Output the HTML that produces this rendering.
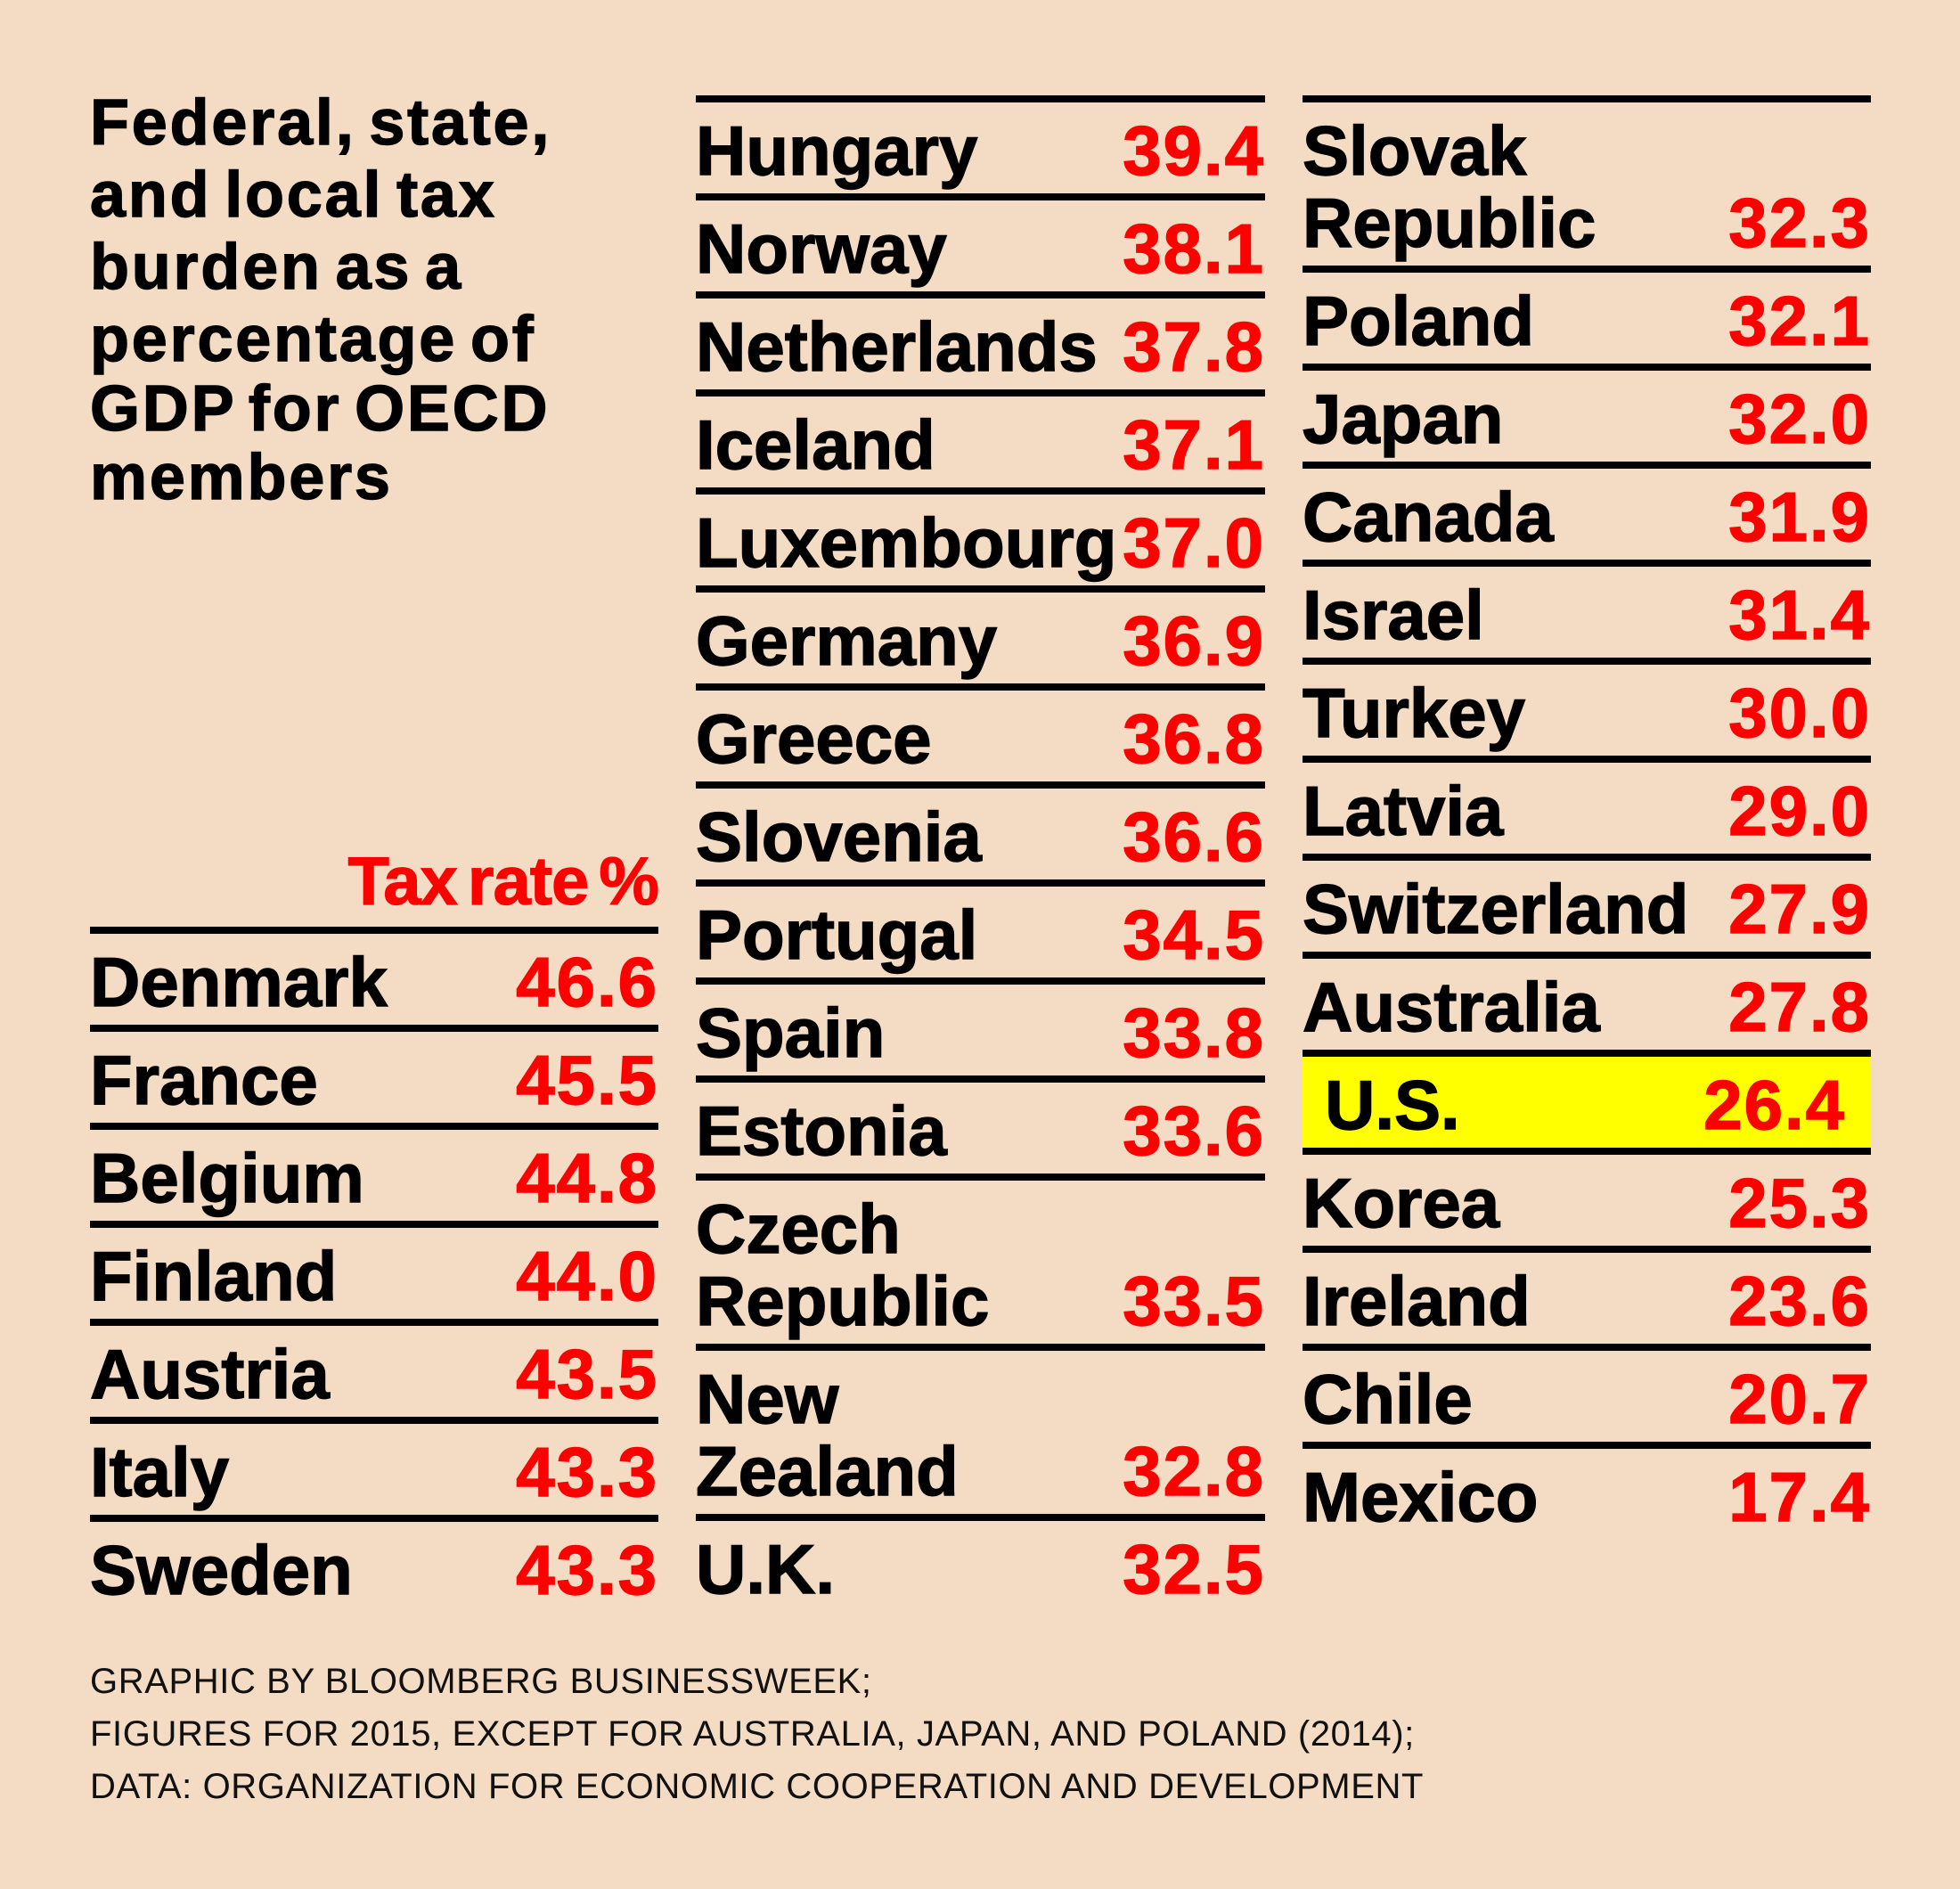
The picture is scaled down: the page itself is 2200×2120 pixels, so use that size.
<!DOCTYPE html>
<html><head><meta charset="utf-8"><style>
html,body{margin:0;padding:0;background:#f3dcc3;}
svg{display:block;}
text{font-family:"Liberation Sans",sans-serif;}
.nm{font-weight:bold;font-size:78px;fill:#000;stroke:#000;stroke-width:1.4px;letter-spacing:0px;}
.vl{font-weight:bold;font-size:78px;fill:#ff0000;stroke:#ff0000;stroke-width:1.4px;letter-spacing:2px;}
.ttl{font-weight:bold;font-size:72px;fill:#000;stroke:#000;stroke-width:1.4px;letter-spacing:2.8px;word-spacing:-8px;}
.ft{font-size:40px;fill:#111;letter-spacing:0.6px;}
</style></head><body>
<svg id="chart" width="2200" height="2120" viewBox="0 0 2200 2120" xmlns="http://www.w3.org/2000/svg">
<rect width="2200" height="2120" fill="#f3dcc3"/>
<g>
<text class="ttl" x="101" y="162">Federal, state,</text>
<text class="ttl" x="101" y="243">and local tax</text>
<text class="ttl" x="101" y="324">burden as a</text>
<text class="ttl" x="101" y="405">percentage of</text>
<text class="ttl" x="101" y="483">GDP for OECD</text>
<text class="ttl" x="101" y="560">members</text>
</g>
<text x="739" y="1015" text-anchor="end" style="font-weight:bold;font-size:76px;fill:#ff0000;stroke:#ff0000;stroke-width:1.2px;letter-spacing:-1px;word-spacing:-8px;">Tax rate %</text>
<g id="rows"></g>
<g>
<text class="ft" x="101" y="1900">GRAPHIC BY BLOOMBERG BUSINESSWEEK;</text>
<text class="ft" x="101" y="1959">FIGURES FOR 2015, EXCEPT FOR AUSTRALIA, JAPAN, AND POLAND (2014);</text>
<text class="ft" x="101" y="2018">DATA: ORGANIZATION FOR ECONOMIC COOPERATION AND DEVELOPMENT</text>
</g>
</svg>
<script>
const countries = ["Denmark","France","Belgium","Finland","Austria","Italy","Sweden",
"Hungary","Norway","Netherlands","Iceland","Luxembourg","Germany","Greece","Slovenia","Portugal","Spain","Estonia","Czech|Republic","New|Zealand","U.K.",
"Slovak|Republic","Poland","Japan","Canada","Israel","Turkey","Latvia","Switzerland","Australia","U.S.","Korea","Ireland","Chile","Mexico"];
const values = [46.6,45.5,44.8,44.0,43.5,43.3,43.3,
39.4,38.1,37.8,37.1,37.0,36.9,36.8,36.6,34.5,33.8,33.6,33.5,32.8,32.5,
32.3,32.1,32.0,31.9,31.4,30.0,29.0,27.9,27.8,26.4,25.3,23.6,20.7,17.4];
const columnCounts = [7,14,14];
const highlighted = ["U.S."];

const cols=[{x0:101,x1:739,y:1040},{x0:781,x1:1420,y:107},{x0:1462,x1:2100,y:107}];
const NS="http://www.w3.org/2000/svg";
const g=document.getElementById('rows');
let idx=0;
columnCounts.forEach((cnt,ci)=>{
  const c=cols[ci]; let y=c.y;
  for(let r=0;r<cnt;r++,idx++){
    const parts=countries[idx].split('|');
    const h= parts.length>1?191:110;
    const hl=highlighted.includes(countries[idx]);
    const slug=parts.join('-').toLowerCase().replace(/[^a-z-]/g,'');
    if(hl){
      const bg=document.createElementNS(NS,'rect');
      bg.setAttribute('x',c.x0);bg.setAttribute('y',y+8);bg.setAttribute('width',c.x1-c.x0);bg.setAttribute('height',h-8);bg.setAttribute('fill','#ffff00');
      
      
      g.appendChild(bg);
    }
    const ln=document.createElementNS(NS,'rect');
    ln.setAttribute('x',c.x0);ln.setAttribute('y',y);ln.setAttribute('width',c.x1-c.x0);ln.setAttribute('height',8);ln.setAttribute('fill','#000');
    
    
    g.appendChild(ln);
    const base=y+h-21;
    parts.forEach((p,pi)=>{
      const t=document.createElementNS(NS,'text');
      t.setAttribute('class','nm');
      t.setAttribute('x',c.x0+(hl?25:0));
      t.setAttribute('y',base-(parts.length-1-pi)*81);
      t.textContent=p;
      
      
      g.appendChild(t);
    });
    const v=document.createElementNS(NS,'text');
    v.setAttribute('class','vl');
    v.setAttribute('x',c.x1-(hl?28:0));
    v.setAttribute('y',base);
    v.setAttribute('text-anchor','end');
    v.textContent=values[idx].toFixed(1);
    
    
    g.appendChild(v);
    y+=h;
  }
});
</script>
</body></html>
